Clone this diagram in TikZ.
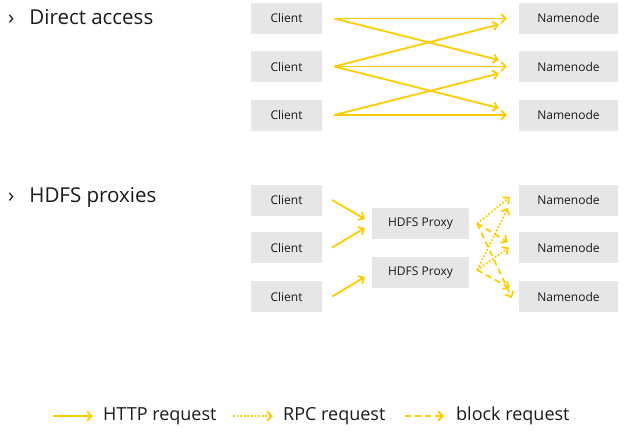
\documentclass[tikz,border=0pt]{standalone}
\usepackage{fontspec}
\setmainfont{Open Sans}
\usetikzlibrary{arrows.meta}
\definecolor{ya}{HTML}{FFCC00}
\definecolor{boxg}{HTML}{E6E6E6}
\definecolor{txt}{HTML}{1A1A1A}
\tikzset{
  box/.style={fill=boxg, draw=none, minimum height=31pt, inner sep=0pt, text=txt, font=\fontsize{12}{14}\selectfont},
  cbox/.style={box, minimum width=71pt},
  nbox/.style={box, minimum width=99pt},
  pbox/.style={box, minimum width=97pt},
  conn/.style={draw=ya, line width=1.8pt, -{Straight Barb[length=4.5pt,width=9pt,line width=1.8pt]}},
  http/.style={conn},
  rpc/.style={conn, dash pattern=on 1.8pt off 1.8pt},
  blk/.style={conn, dash pattern=on 6pt off 4pt},
  head/.style={anchor=west, inner sep=0pt, text=txt, font=\fontsize{20.5}{24}\selectfont},
  leg/.style={anchor=west, inner sep=0pt, text=txt, font=\fontsize{18}{21}\selectfont},
}
\begin{document}
\begin{tikzpicture}[x=1pt,y=-1pt]
\useasboundingbox (0,0) rectangle (624,436);
% headings
\node[head] (h1) at (8,17) {›\hspace{15pt}Direct access};
\node[head] (h2) at (8,197) {›\hspace{15pt}HDFS proxies};
% direct access
\node[cbox] (c1) at (286.5,18.5) {Client};
\node[cbox] (c2) at (286.5,66.5) {Client};
\node[cbox] (c3) at (286.5,115) {Client};
\node[nbox] (n1) at (568.5,18.5) {Namenode};
\node[nbox] (n2) at (568.5,66.5) {Namenode};
\node[nbox] (n3) at (568.5,115) {Namenode};
\draw[http] ([xshift=12pt]c1.east) -- ([xshift=-12pt]n1.west);
\draw[http] ([xshift=12pt]c1.east) -- ([xshift=-20pt,yshift=6.5pt]n2.west);
\draw[http] ([xshift=12pt]c2.east) -- ([xshift=-20pt,yshift=-6pt]n1.west);
\draw[http] ([xshift=12pt]c2.east) -- ([xshift=-12pt]n2.west);
\draw[http] ([xshift=12pt]c2.east) -- ([xshift=-20pt,yshift=7pt]n3.west);
\draw[http] ([xshift=12pt]c3.east) -- ([xshift=-20pt,yshift=-7pt]n2.west);
\draw[http] ([xshift=12pt]c3.east) -- ([xshift=-12pt]n3.west);
% proxies
\node[cbox] (d1) at (286.5,200) {Client};
\node[cbox] (d2) at (286.5,247.5) {Client};
\node[cbox] (d3) at (286.5,296.5) {Client};
\node[pbox] (p1) at (420.5,223.5) {HDFS Proxy};
\node[pbox] (p2) at (420.5,272.5) {HDFS Proxy};
\node[nbox] (m1) at (568.5,200) {Namenode};
\node[nbox] (m2) at (568.5,247.5) {Namenode};
\node[nbox] (m3) at (568.5,296.5) {Namenode};
\draw[http] ([xshift=10pt]d1.east) -- ([xshift=-7pt,yshift=4.5pt]p1.west);
\draw[http] ([xshift=10pt]d2.east) -- ([xshift=-7pt,yshift=-4.5pt]p1.west);
\draw[http] ([xshift=10pt]d3.east) -- ([xshift=-7pt,yshift=-4.5pt]p2.west);
\draw[rpc] ([xshift=8pt]p1.east) -- ([xshift=-9pt,yshift=3pt]m1.west);
\draw[blk] ([xshift=8pt]p1.east) -- ([xshift=-11pt,yshift=5.5pt]m2.west);
\draw[blk] ([xshift=8pt]p1.east) -- ([xshift=-7pt,yshift=-1.5pt]m3.west);
\draw[rpc] ([xshift=8pt,yshift=2.5pt]p2.east) -- ([xshift=-11pt,yshift=-8pt]m1.west);
\draw[rpc] ([xshift=8pt,yshift=2.5pt]p2.east) -- ([xshift=-10pt]m2.west);
\draw[blk] ([xshift=8pt,yshift=2.5pt]p2.east) -- ([xshift=-9pt,yshift=8.5pt]m3.west);
% legend
\coordinate (l1a) at (53,416); \coordinate (l1b) at (93,416);
\coordinate (l2a) at (233,416); \coordinate (l2b) at (273,416);
\coordinate (l3a) at (405,416); \coordinate (l3b) at (444,416);
\draw[http] (l1a) -- (l1b);
\draw[rpc] (l2a) -- (l2b);
\draw[blk] (l3a) -- (l3b);
\node[leg] (t1) at (103,416) {HTTP request};
\node[leg] (t2) at (283,416) {RPC request};
\node[leg] (t3) at (456,416) {block request};
\end{tikzpicture}
\end{document}
